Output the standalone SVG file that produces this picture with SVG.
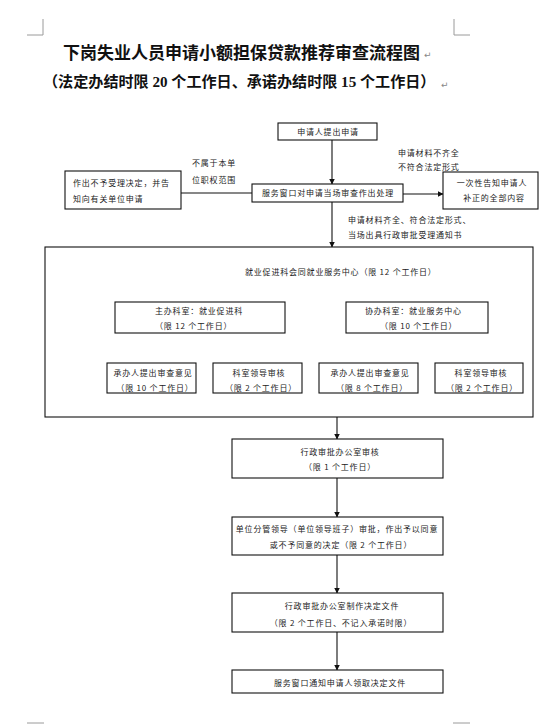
<svg xmlns="http://www.w3.org/2000/svg" width="540" height="726" viewBox="0 0 540 726">
<style>
.bg{fill:#ffffff}
.box{fill:#ffffff;stroke:#111;stroke-width:1.1}
.ln{fill:none;stroke:#111;stroke-width:1.1}
.mk{fill:none;stroke:#9a9a9a;stroke-width:1}
.t{font-family:"Noto Sans CJK SC","Noto Sans",sans-serif;font-size:8px;letter-spacing:0.8px;fill:#222}
.c{text-anchor:middle}
.title{font-family:"Noto Sans CJK SC",sans-serif;font-size:17px;font-weight:bold;fill:#111}
.sub{font-family:"Liberation Serif","Noto Sans CJK SC",serif;font-size:15.1px;font-weight:bold;fill:#111}
.pm{font-family:"DejaVu Sans",sans-serif;font-size:9px;fill:#888}
</style>
<defs>
<marker id="ah" markerWidth="6" markerHeight="6" refX="5.5" refY="3" orient="auto" markerUnits="userSpaceOnUse">
<path d="M0,0 L6,3 L0,6 Z" fill="#111"/>
</marker>
<marker id="ahs" markerWidth="6" markerHeight="6" refX="0.5" refY="3" orient="auto" markerUnits="userSpaceOnUse">
<path d="M6,0 L0,3 L6,6 Z" fill="#111"/>
</marker>
</defs>
<rect class="bg" x="0" y="0" width="540" height="726"/>

<g id="page-marks">
<path class="mk" d="M43,19 V35 H27"/>
<path class="mk" d="M454,19 V35 H470"/>
<path class="mk" d="M27,723 H44"/>
<path class="mk" d="M453,723 H470"/>
</g>

<g id="title">
<text class="title" x="63" y="59">下岗失业人员申请小额担保贷款推荐审查流程图</text>
<text class="pm" x="424" y="58">↵</text>
<text class="sub" x="43" y="87">（法定办结时限 20 个工作日、承诺办结时限 15 个工作日）</text>
<text class="pm" x="441" y="88">↵</text>
</g>

<g id="connectors">
<line class="ln" x1="332" y1="140" x2="332" y2="184" marker-end="url(#ah)"/>
<line class="ln" x1="181" y1="193" x2="252" y2="193"/>
<line class="ln" x1="403" y1="194" x2="443" y2="194" marker-end="url(#ah)"/>
<line class="ln" x1="332" y1="202" x2="332" y2="247" marker-end="url(#ah)"/>
<line class="ln" x1="286" y1="317" x2="325" y2="317" marker-start="url(#ahs)" marker-end="url(#ah)"/>
<line class="ln" x1="168" y1="333" x2="168" y2="363" marker-end="url(#ah)"/>
<line class="ln" x1="248" y1="333" x2="248" y2="363" marker-end="url(#ah)"/>
<line class="ln" x1="381" y1="333" x2="381" y2="363" marker-end="url(#ah)"/>
<line class="ln" x1="470" y1="333" x2="470" y2="363" marker-end="url(#ah)"/>
<line class="ln" x1="337" y1="417" x2="337" y2="439" marker-end="url(#ah)"/>
<line class="ln" x1="337" y1="478" x2="337" y2="517" marker-end="url(#ah)"/>
<line class="ln" x1="337" y1="555" x2="337" y2="593" marker-end="url(#ah)"/>
<line class="ln" x1="337" y1="632" x2="337" y2="670" marker-end="url(#ah)"/>
</g>

<g id="labels">
<text class="t" x="192" y="166">不属于本单</text>
<text class="t" x="192" y="183">位职权范围</text>
<text class="t" x="398" y="156">申请材料不齐全</text>
<text class="t" x="398" y="170">不符合法定形式</text>
<text class="t" x="348" y="223">申请材料齐全、符合法定形式、</text>
<text class="t" x="348" y="238">当场出具行政审批受理通知书</text>
</g>

<g id="n-apply">
<rect class="box" x="278" y="123" width="99" height="17"/>
<text class="t c" x="328" y="135">申请人提出申请</text>
</g>

<g id="n-window">
<rect class="box" x="252" y="184" width="151" height="18"/>
<text class="t c" x="328" y="196">服务窗口对申请当场审查作出处理</text>
</g>

<g id="n-reject">
<rect class="box" x="65" y="171" width="116" height="38"/>
<text class="t" x="73" y="186">作出不予受理决定，并告</text>
<text class="t" x="73" y="202">知向有关单位申请</text>
</g>

<g id="n-notify">
<rect class="box" x="443" y="172" width="95" height="37"/>
<text class="t c" x="492" y="186">一次性告知申请人</text>
<text class="t c" x="494" y="201">补正的全部内容</text>
</g>

<g id="n-dept">
<rect class="box" x="45" y="247" width="488" height="170"/>
<text class="t" x="245" y="275">就业促进科会同就业服务中心（限 12 个工作日）</text>
</g>

<g id="n-main">
<rect class="box" x="115" y="302" width="170" height="31"/>
<text class="t" x="155" y="314">主办科室：就业促进科</text>
<text class="t" x="155" y="329">（限 12 个工作日）</text>
</g>

<g id="n-assist">
<rect class="box" x="346" y="302" width="142" height="31"/>
<text class="t" x="365" y="314">协办科室：就业服务中心</text>
<text class="t" x="380" y="329">（限 10  个工作日）</text>
</g>

<g id="n-sub1">
<rect class="box" x="107" y="363" width="89" height="30"/>
<text class="t c" x="153" y="376">承办人提出审查意见</text>
<text class="t c" x="155" y="391">（限 10 个工作日）</text>
</g>

<g id="n-sub2">
<rect class="box" x="213" y="363" width="89" height="30"/>
<text class="t c" x="259" y="376">科室领导审核</text>
<text class="t c" x="261" y="391">（限 2 个工作日）</text>
</g>

<g id="n-sub3">
<rect class="box" x="319" y="363" width="99" height="30"/>
<text class="t c" x="370" y="376">承办人提出审查意见</text>
<text class="t c" x="372" y="391">（限 8 个工作日）</text>
</g>

<g id="n-sub4">
<rect class="box" x="435" y="363" width="88" height="30"/>
<text class="t c" x="481" y="376">科室领导审核</text>
<text class="t c" x="482" y="391">（限 2 个工作日）</text>
</g>

<g id="n-admin">
<rect class="box" x="232" y="439" width="211" height="39"/>
<text class="t c" x="340" y="455">行政审批办公室审核</text>
<text class="t c" x="340" y="470">（限 1 个工作日）</text>
</g>

<g id="n-leader">
<rect class="box" x="232" y="517" width="211" height="38"/>
<text class="t c" x="337" y="532">单位分管领导（单位领导班子）审批，作出予以同意</text>
<text class="t c" x="341" y="548">或不予同意的决定（限 2 个工作日）</text>
</g>

<g id="n-doc">
<rect class="box" x="232" y="593" width="211" height="39"/>
<text class="t c" x="342" y="609">行政审批办公室制作决定文件</text>
<text class="t c" x="341" y="626">（限 2 个工作日、不记入承诺时限）</text>
</g>

<g id="n-final">
<rect class="box" x="232" y="670" width="211" height="23"/>
<text class="t c" x="340" y="686">服务窗口通知申请人领取决定文件</text>
</g>
</svg>
